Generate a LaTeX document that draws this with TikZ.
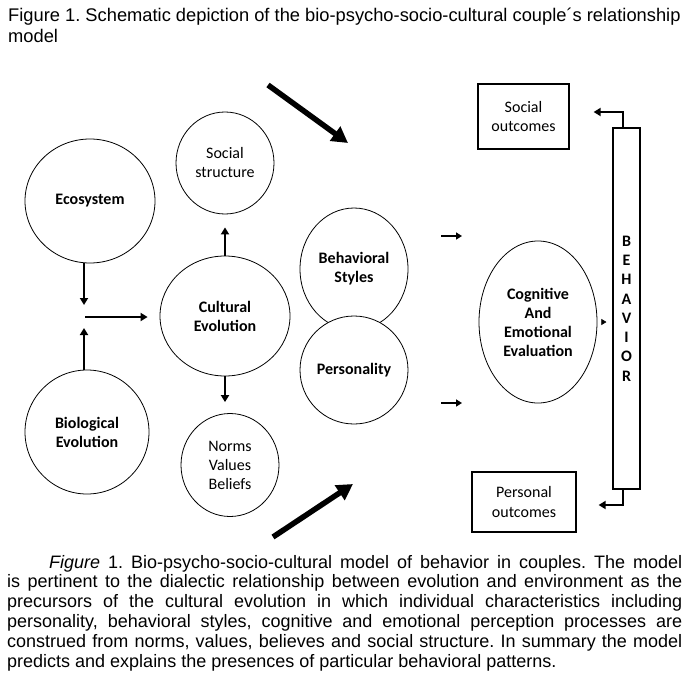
\documentclass[tikz,border=0pt]{standalone}
\usepackage{fontspec}
\setmainfont{Liberation Sans}
\newfontfamily\calibri{Carlito}
\usetikzlibrary{shapes.geometric,arrows.meta}
\frenchspacing

\begin{document}
\begin{tikzpicture}[x=1pt, y=-1pt,
  bubble/.style={draw, ellipse, inner sep=0pt, align=center, line width=.8pt, font=\calibri\fontsize{16}{19}\selectfont},
  bbubble/.style={bubble, font=\calibri\bfseries\fontsize{16}{19}\selectfont},
  outbox/.style={draw, rectangle, inner sep=0pt, align=center, line width=1.2pt, font=\calibri\fontsize{16}{19.5}\selectfont},
  arr/.style={line width=2.5pt, -{Triangle[length=7pt,width=8pt]}},
  outarr/.style={line width=2pt, -{Triangle[length=7pt,width=8pt]}},
  smallarr/.style={line width=2pt, -{Triangle[length=6pt,width=7pt]}},
  bigarr/.style={line width=5.5pt, -{Triangle[length=16pt,width=17pt]}},
  caption/.style={anchor=base west, inner sep=0pt, font=\fontsize{18}{20}\selectfont}]
  \useasboundingbox (0,0) rectangle (692,687);

  \node[caption, font=\fontsize{18.3}{21}\selectfont] (title1) at (8,21.5) {Figure 1. Schematic depiction of the bio-psycho-socio-cultural couple´s relationship};
  \node[caption, font=\fontsize{18.3}{21}\selectfont] (title2) at (8,42.5) {model};

  \node[bbubble, minimum width=130pt, minimum height=124pt] (eco) at (90,201) {Ecosystem};
  \node[bubble, minimum width=98pt, minimum height=102pt] (soc) at (225,163) {Social\\structure};
  \node[bbubble, minimum width=130pt, minimum height=120pt] (cult) at (225,316) {Cultural\\Evolution};
  \node[bbubble, minimum width=124pt, minimum height=124pt] (bio) at (87,432) {Biological\\Evolution};
  \node[bubble, minimum width=98pt, minimum height=103pt] (norms) at (230,465) {Norms\\Values\\Beliefs};
  \node[bbubble, minimum width=108pt, minimum height=122pt] (behav) at (354,269) {Behavioral\\Styles};
  \node[bbubble, fill=white, minimum width=108pt, minimum height=108pt] (pers) at (354,370) {Personality};
  \node[bbubble, minimum width=118pt, minimum height=162pt] (cog) at (538,322) {Cognitive\\And\\Emotional\\Evaluation};

  \node[outbox, minimum width=91pt, minimum height=65pt] (socout) at (523.5,116.5) {Social\\outcomes};
  \node[outbox, minimum width=104pt, minimum height=60pt] (perout) at (524,502) {Personal\\outcomes};
  \node[outbox, font=\calibri\bfseries\fontsize{16}{19.3}\selectfont, minimum width=27pt, minimum height=361pt] (bar) at (626.5,308.5) {B\\E\\H\\A\\V\\I\\O\\R};

  \coordinate (mix) at (84,317);
  \draw[arr] (mix |- eco.south) -- ([yshift=12pt]mix);
  \draw[arr] (mix |- bio.north) -- ([yshift=-11pt]mix);
  \draw[arr, shorten >=12pt] ([xshift=1pt]mix) -- (mix -| cult.west);
  \draw[arr, shorten >=13pt] (cult) -- (soc);
  \draw[arr, shorten >=11pt] (cult.south) -- (cult.south |- norms.north);

  \draw[smallarr] (441,236) -- (462,236);
  \draw[smallarr] (441,403) -- (462,403);
  \draw[bigarr] (268,85) -- (348,143);
  \draw[bigarr] (273,537) -- (353,484);

  \draw[line width=.5pt, -{Triangle[length=5pt,width=6pt]}, shorten <=5pt, shorten >=6pt] (cog) -- (cog -| bar.west);
  \draw[outarr] ([xshift=-3.5pt]bar.north) |- ([xshift=24pt,yshift=4.5pt]socout.east);
  \draw[outarr] ([xshift=-3.5pt]bar.south) |- ([xshift=22pt,yshift=-3pt]perout.east);

  \node[caption] (cap1) at (49,568) {\makebox[633pt][s]{\textit{Figure} 1. Bio-psycho-socio-cultural model of behavior in couples. The model}};
  \node[caption] (cap2) at (7,587.8) {\makebox[675pt][s]{is pertinent to the dialectic relationship between evolution and environment as the}};
  \node[caption] (cap3) at (7,607.6) {\makebox[675pt][s]{precursors of the cultural evolution in which individual characteristics including}};
  \node[caption] (cap4) at (7,627.4) {\makebox[675pt][s]{personality, behavioral styles, cognitive and emotional perception processes are}};
  \node[caption] (cap5) at (7,647.2) {\makebox[675pt][s]{construed from norms, values, believes and social structure. In summary the model}};
  \node[caption] (cap6) at (7,667) {predicts and explains the presences of particular behavioral patterns.};
\end{tikzpicture}
\end{document}
